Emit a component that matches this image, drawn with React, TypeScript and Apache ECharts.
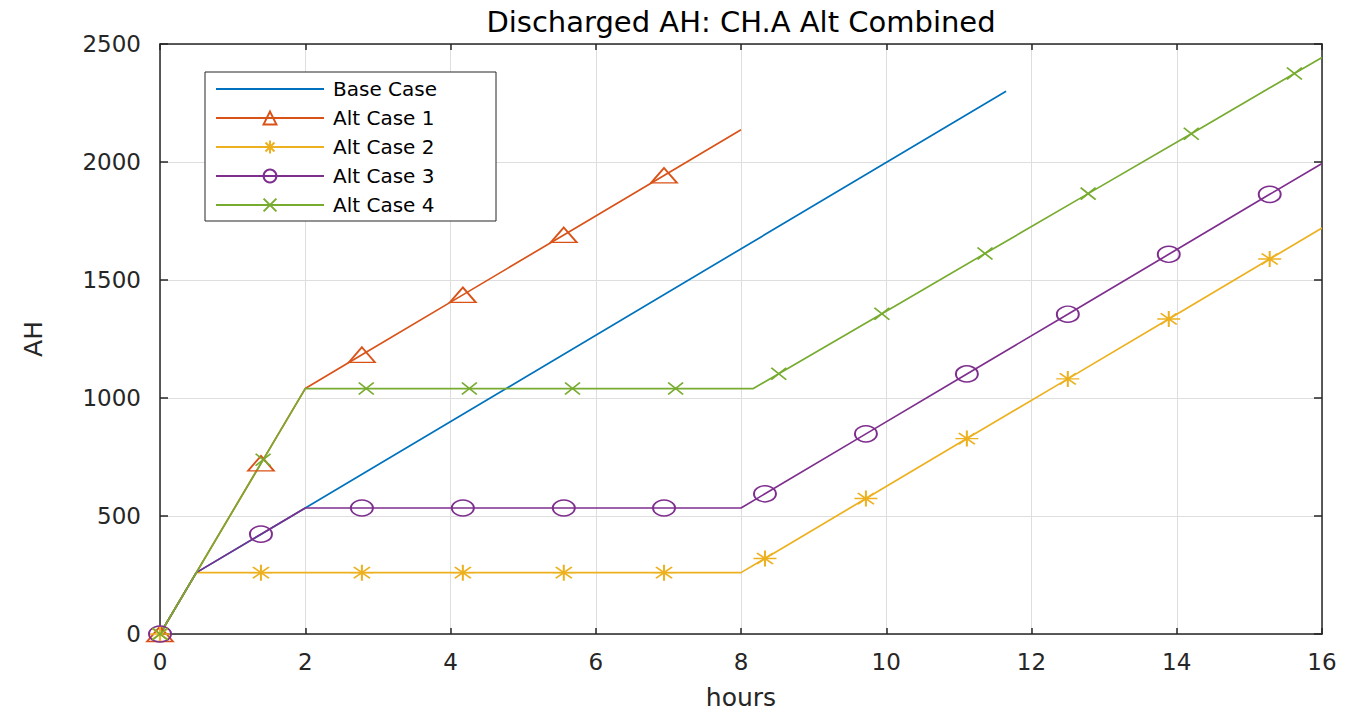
import React, { useEffect, useRef } from "react";
import * as echarts from "echarts";

// ---- data ----
const chartTitle = "Discharged AH: CH.A Alt Combined";
const xAxisName = "hours";
const yAxisName = "AH";
const xRange = [0, 16];
const xStep = 2;
const yRange = [0, 2500];
const yStep = 500;

const seriesNames = ["Base Case", "Alt Case 1", "Alt Case 2", "Alt Case 3", "Alt Case 4"];

// line vertices [hours, AH]
const baseCaseLine = [[0, 0], [0.5, 260], [2, 534], [11.65, 2300]];
const altCase1Line = [[0, 0], [2, 1040], [8, 2137]];
const altCase2Line = [[0, 0], [0.5, 260], [8, 260], [16, 1720]];
const altCase3Line = [[0, 0], [0.5, 260], [2, 534], [8, 534], [16, 1994]];
const altCase4Line = [[0, 0], [2, 1040], [8.17, 1040], [16, 2443]];

// marker points [hours, AH]
const baseCaseMarkers: number[][] = [];
const altCase1Markers = [[0, 0], [1.39, 723], [2.78, 1183], [4.17, 1437], [5.56, 1691], [6.94, 1943]];
const altCase2Markers = [
  [0, 0], [1.39, 260], [2.78, 260], [4.17, 260], [5.56, 260], [6.94, 260],
  [8.33, 320], [9.72, 574], [11.11, 828], [12.5, 1081], [13.89, 1335], [15.28, 1589],
];
const altCase3Markers = [
  [0, 0], [1.39, 423], [2.78, 534], [4.17, 534], [5.56, 534], [6.94, 534],
  [8.33, 594], [9.72, 848], [11.11, 1102], [12.5, 1355], [13.89, 1609], [15.28, 1863],
];
const altCase4Markers = [
  [0, 0], [1.42, 738], [2.84, 1040], [4.26, 1040], [5.68, 1040], [7.1, 1040],
  [8.52, 1103], [9.94, 1357], [11.36, 1612], [12.78, 1866], [14.2, 2120], [15.62, 2375],
];

const lines = [baseCaseLine, altCase1Line, altCase2Line, altCase3Line, altCase4Line];
const markers = [baseCaseMarkers, altCase1Markers, altCase2Markers, altCase3Markers, altCase4Markers];

// ---- styles ----
const colors = ["#0072BD", "#D95319", "#EDB120", "#7E2F8E", "#77AC30"];
const symbols = [
  "circle",
  "triangle",
  "path://M10,0L10,20M0,10L20,10M3,3L17,17M3,17L17,3",
  "circle",
  "path://M0,0L20,20M0,20L20,0",
];
const symbolSizes: any[] = [[1, 1], [26, 15], [23, 16], [22, 16], [15, 12]];
const FONT = "'DejaVu Sans', 'Liberation Sans', Arial, sans-serif";
const AXIS_COLOR = "#262626";
const W = 1347;
const H = 715;

function buildData(line: number[][], marks: number[][]) {
  const items: any[] = [];
  line.forEach((p) => {
    if (!marks.some((m) => m[0] === p[0])) items.push({ value: p, symbol: "none" });
  });
  marks.forEach((m) => items.push({ value: m }));
  items.sort((a, b) => a.value[0] - b.value[0]);
  return items;
}

export default function App() {
  const ref = useRef<HTMLDivElement>(null);

  useEffect(() => {
    if (!ref.current) return;
    const chart = echarts.init(ref.current, undefined, { renderer: "svg", width: W, height: H });

    const series = seriesNames.map((name, i) => ({
      type: "line",
      name,
      data: buildData(lines[i], markers[i]),
      symbol: symbols[i],
      symbolSize: symbolSizes[i],
      showSymbol: true,
      showAllSymbol: true,
      xAxisIndex: 0,
      yAxisIndex: 0,
      lineStyle: { color: colors[i], width: 1.7 },
      itemStyle: { color: "rgba(255,255,255,0)", borderColor: colors[i], borderWidth: 1.7 },
      emphasis: { disabled: true },
      silent: true,
    }));

    const legendData = seriesNames.map((name, i) =>
      markers[i].length === 0
        ? { name, itemStyle: { color: "rgba(0,0,0,0)", borderColor: "rgba(0,0,0,0)", borderWidth: 0 } }
        : { name }
    );

    const tickStyle = { lineStyle: { color: AXIS_COLOR, width: 1.5 } };
    const plain = (v: number) => String(v);

    chart.setOption({
      animation: false,
      backgroundColor: "#ffffff",
      title: {
        text: chartTitle,
        left: 741,
        top: 7,
        textAlign: "center",
        padding: 0,
        textStyle: { fontSize: 29, fontWeight: "normal", color: "#000", fontFamily: FONT },
      },
      grid: { left: 160, right: 25, top: 44, bottom: 74, containLabel: false },
      legend: {
        orient: "vertical",
        left: 205,
        top: 72,
        itemWidth: 108,
        itemHeight: 16,
        itemGap: 9,
        padding: [7, 13, 6, 10],
        backgroundColor: "#ffffff",
        borderColor: AXIS_COLOR,
        borderWidth: 1,
        borderRadius: 0,
        selectedMode: false,
        textStyle: {
          fontSize: 20,
          color: "#000",
          fontFamily: FONT,
          width: 150,
          lineHeight: 20,
          padding: [0, 0, 0, 4],
        },
        data: legendData,
      },
      xAxis: [
        {
          type: "value",
          min: xRange[0],
          max: xRange[1],
          interval: xStep,
          name: xAxisName,
          nameLocation: "middle",
          nameGap: 51,
          nameTextStyle: { fontSize: 25, color: AXIS_COLOR, fontFamily: FONT },
          axisLine: { show: true, onZero: false, lineStyle: { color: AXIS_COLOR, width: 1.5 } },
          axisTick: { show: true, inside: true, length: 6, ...tickStyle },
          axisLabel: { fontSize: 23, color: AXIS_COLOR, fontFamily: FONT, margin: 16, formatter: plain },
          splitLine: { show: true, lineStyle: { color: "#dedede", width: 1 } },
        },
        {
          type: "value",
          position: "top",
          min: xRange[0],
          max: xRange[1],
          interval: xStep,
          axisLine: { show: true, onZero: false, lineStyle: { color: AXIS_COLOR, width: 1.5 } },
          axisTick: { show: true, inside: true, length: 6, ...tickStyle },
          axisLabel: { show: false },
          splitLine: { show: false },
        },
      ],
      yAxis: [
        {
          type: "value",
          min: yRange[0],
          max: yRange[1],
          interval: yStep,
          name: yAxisName,
          nameLocation: "middle",
          nameGap: 114,
          nameTextStyle: { fontSize: 25, color: AXIS_COLOR, fontFamily: FONT },
          axisLine: { show: true, onZero: false, lineStyle: { color: AXIS_COLOR, width: 1.5 } },
          axisTick: { show: true, inside: true, length: 8, ...tickStyle },
          axisLabel: { fontSize: 23, color: AXIS_COLOR, fontFamily: FONT, margin: 19, formatter: plain },
          splitLine: { show: true, lineStyle: { color: "#dedede", width: 1 } },
        },
        {
          type: "value",
          position: "right",
          min: yRange[0],
          max: yRange[1],
          interval: yStep,
          axisLine: { show: true, onZero: false, lineStyle: { color: AXIS_COLOR, width: 1.5 } },
          axisTick: { show: true, inside: true, length: 8, ...tickStyle },
          axisLabel: { show: false },
          splitLine: { show: false },
        },
      ],
      series,
    });

    return () => chart.dispose();
  }, []);

  return (
    <div
      ref={ref}
      style={{ position: "fixed", left: 0, top: 0, width: W, height: H, background: "#fff" }}
    />
  );
}
